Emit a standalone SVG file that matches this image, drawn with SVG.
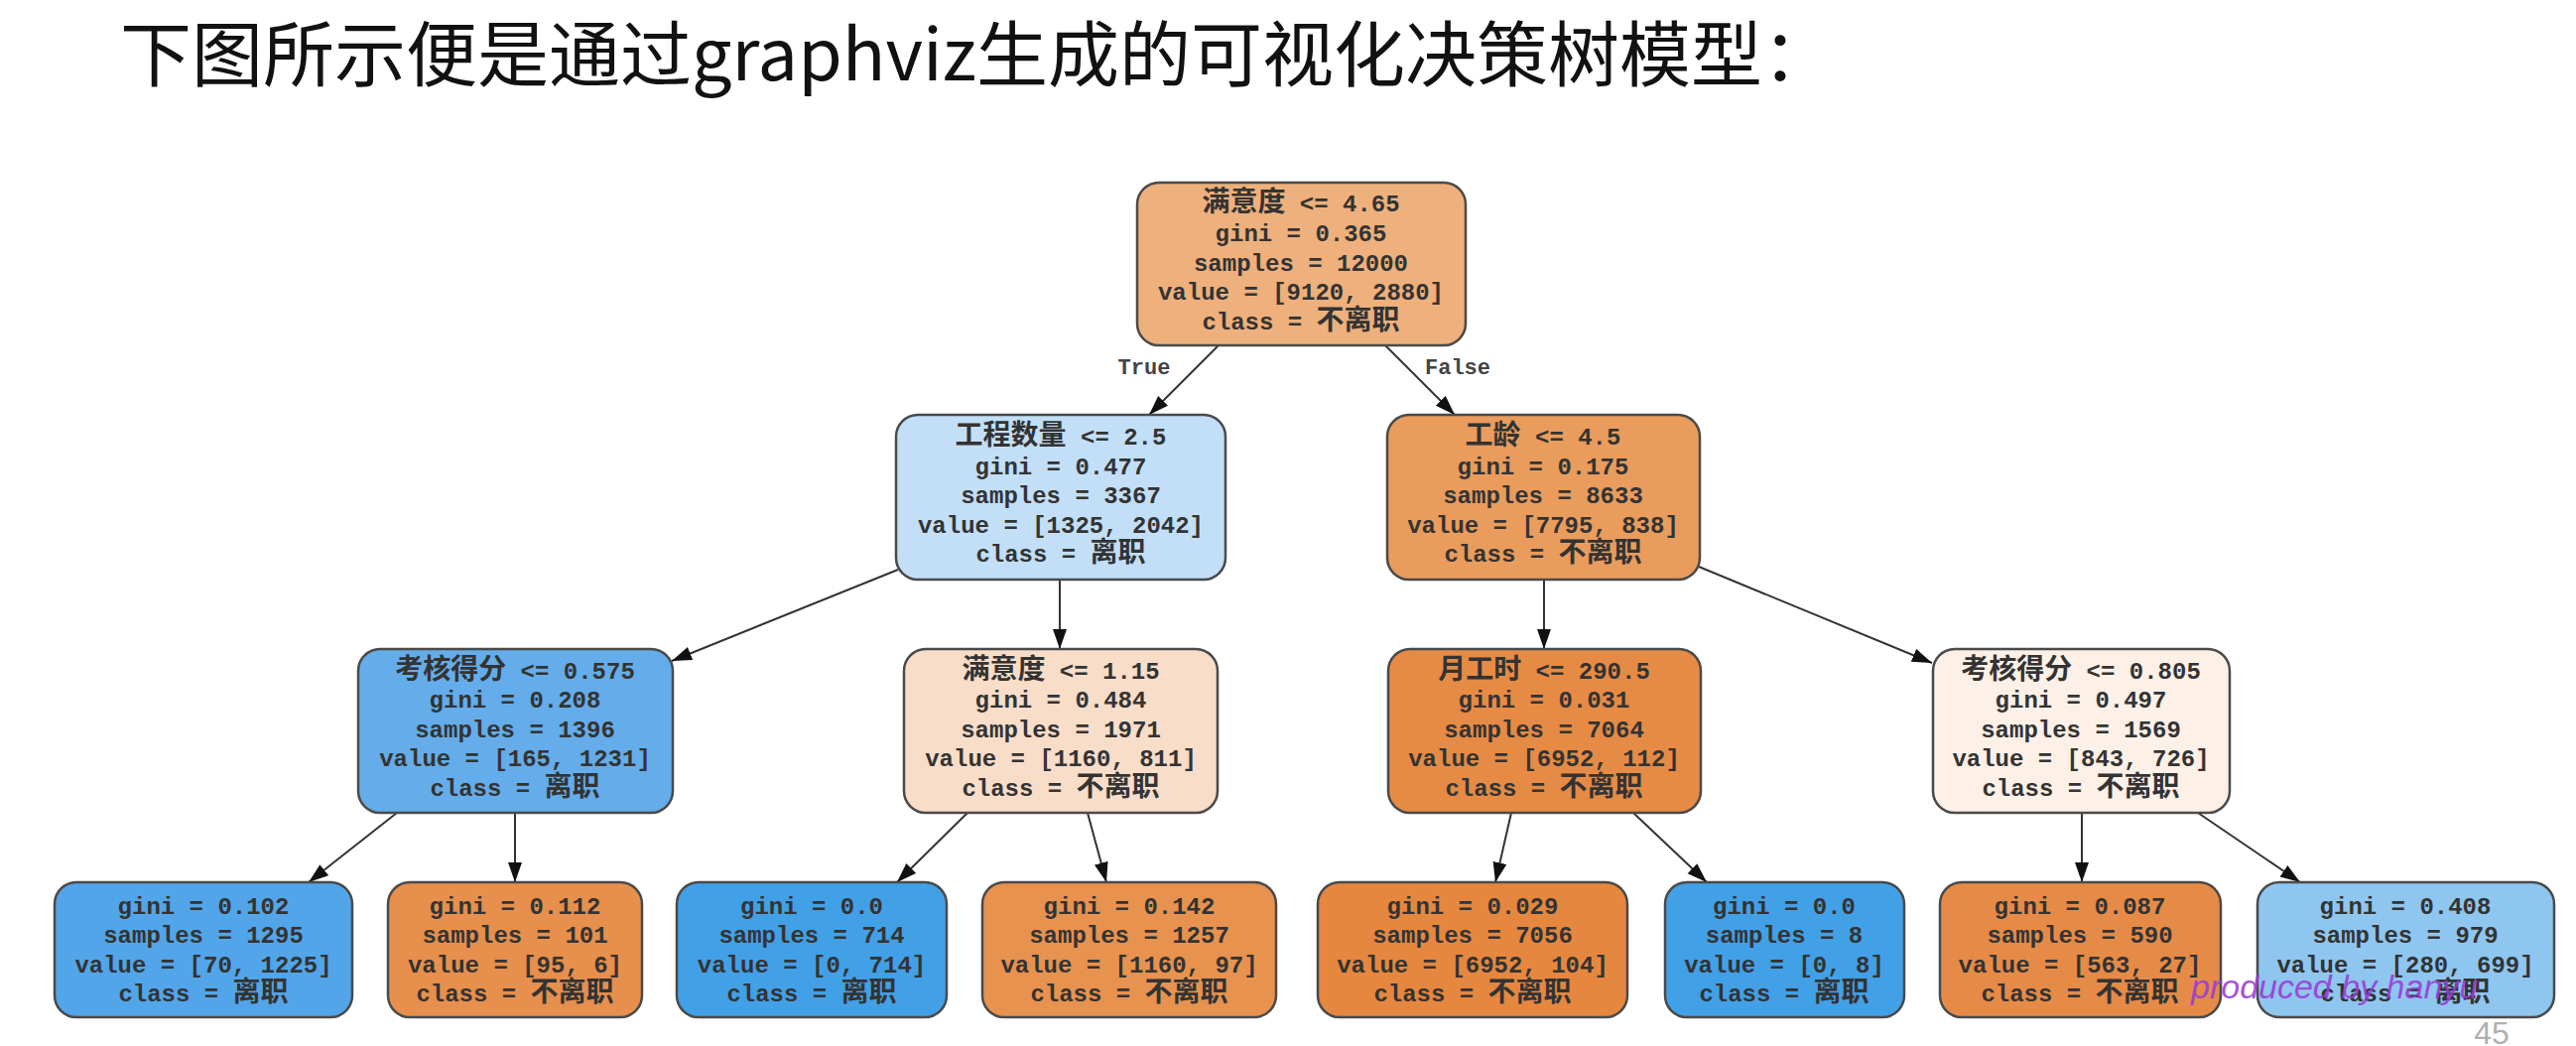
<svg xmlns="http://www.w3.org/2000/svg" width="2596" height="1054" viewBox="0 0 2596 1054">
  <style>
    .box { stroke: #4a4a4a; stroke-width: 2.5; }
    .t { font-family: "Liberation Mono", "Noto Sans CJK SC", monospace; font-size: 24px; font-weight: bold; fill: #333; text-anchor: middle; }
    .c { font-family: "Noto Sans CJK SC", sans-serif; font-size: 28px; font-weight: bold; }
    .edge { stroke: #333; stroke-width: 2; fill: none; marker-end: url(#arrow); }
    .lbl { font-family: "Liberation Mono", monospace; font-size: 22px; font-weight: bold; fill: #444; text-anchor: middle; }
    .title { font-family: "Noto Sans CJK SC", sans-serif; font-size: 72px; fill: #111; }
  </style>
  <defs>
    <marker id="arrow" markerUnits="userSpaceOnUse" markerWidth="22" markerHeight="16" refX="20" refY="7" orient="auto">
      <path d="M0,0 L20,7 L0,14 z" fill="#111"/>
    </marker>
  </defs>
  <rect width="2596" height="1054" fill="#fff"/>

  <text class="title" x="121" y="81">下图所示便是通过graphviz生成的可视化决策树模型：</text>

  <!-- tree connectors -->
  <g id="edges">
    <line class="edge" x1="1228" y1="348" x2="1158" y2="418"/>
    <line class="edge" x1="1396" y1="348" x2="1466" y2="418"/>
    <line class="edge" x1="905" y1="574" x2="677" y2="666"/>
    <line class="edge" x1="1068" y1="584" x2="1068" y2="654"/>
    <line class="edge" x1="1556" y1="584" x2="1556" y2="654"/>
    <line class="edge" x1="1712" y1="571" x2="1947" y2="668"/>
    <line class="edge" x1="400" y1="819" x2="311" y2="889"/>
    <line class="edge" x1="519" y1="819" x2="519" y2="889"/>
    <line class="edge" x1="975" y1="819" x2="904" y2="889"/>
    <line class="edge" x1="1096" y1="819" x2="1115" y2="889"/>
    <line class="edge" x1="1523" y1="819" x2="1507" y2="889"/>
    <line class="edge" x1="1646" y1="819" x2="1720" y2="889"/>
    <line class="edge" x1="2098" y1="819" x2="2098" y2="889"/>
    <line class="edge" x1="2215" y1="819" x2="2318" y2="889"/>
    <text class="lbl" x="1153" y="377">True</text>
    <text class="lbl" x="1469" y="377">False</text>
  </g>

  <!-- level 0 -->
  <g id="n0">
    <rect class="box" x="1146" y="184" width="331" height="164" rx="22" fill="#eeb07c"/>
    <text class="t" x="1311" y="213"><tspan class="c">满意度</tspan> &lt;= 4.65</text>
    <text class="t" x="1311" y="243">gini = 0.365</text>
    <text class="t" x="1311" y="273">samples = 12000</text>
    <text class="t" x="1311" y="302">value = [9120, 2880]</text>
    <text class="t" x="1311" y="332">class = <tspan class="c">不离职</tspan></text>
  </g>

  <!-- level 1 -->
  <g id="n1">
    <rect class="box" x="903" y="418" width="332" height="166" rx="22" fill="#c2dff7"/>
    <text class="t" x="1069" y="448"><tspan class="c">工程数量</tspan> &lt;= 2.5</text>
    <text class="t" x="1069" y="478">gini = 0.477</text>
    <text class="t" x="1069" y="507">samples = 3367</text>
    <text class="t" x="1069" y="537">value = [1325, 2042]</text>
    <text class="t" x="1069" y="566">class = <tspan class="c">离职</tspan></text>
  </g>
  <g id="n8">
    <rect class="box" x="1398" y="418" width="315" height="166" rx="22" fill="#e99c5c"/>
    <text class="t" x="1555" y="448"><tspan class="c">工龄</tspan> &lt;= 4.5</text>
    <text class="t" x="1555" y="478">gini = 0.175</text>
    <text class="t" x="1555" y="507">samples = 8633</text>
    <text class="t" x="1555" y="537">value = [7795, 838]</text>
    <text class="t" x="1555" y="566">class = <tspan class="c">不离职</tspan></text>
  </g>

  <!-- level 2 -->
  <g id="n2">
    <rect class="box" x="361" y="654" width="317" height="165" rx="22" fill="#64adea"/>
    <text class="t" x="519" y="684"><tspan class="c">考核得分</tspan> &lt;= 0.575</text>
    <text class="t" x="519" y="713">gini = 0.208</text>
    <text class="t" x="519" y="743">samples = 1396</text>
    <text class="t" x="519" y="772">value = [165, 1231]</text>
    <text class="t" x="519" y="802">class = <tspan class="c">离职</tspan></text>
  </g>
  <g id="n5">
    <rect class="box" x="911" y="654" width="316" height="165" rx="22" fill="#f8ddc9"/>
    <text class="t" x="1069" y="684"><tspan class="c">满意度</tspan> &lt;= 1.15</text>
    <text class="t" x="1069" y="713">gini = 0.484</text>
    <text class="t" x="1069" y="743">samples = 1971</text>
    <text class="t" x="1069" y="772">value = [1160, 811]</text>
    <text class="t" x="1069" y="802">class = <tspan class="c">不离职</tspan></text>
  </g>
  <g id="n9">
    <rect class="box" x="1399" y="654" width="315" height="165" rx="22" fill="#e68b45"/>
    <text class="t" x="1556" y="684"><tspan class="c">月工时</tspan> &lt;= 290.5</text>
    <text class="t" x="1556" y="713">gini = 0.031</text>
    <text class="t" x="1556" y="743">samples = 7064</text>
    <text class="t" x="1556" y="772">value = [6952, 112]</text>
    <text class="t" x="1556" y="802">class = <tspan class="c">不离职</tspan></text>
  </g>
  <g id="n12">
    <rect class="box" x="1948" y="654" width="299" height="165" rx="22" fill="#fcf0e7"/>
    <text class="t" x="2097" y="684"><tspan class="c">考核得分</tspan> &lt;= 0.805</text>
    <text class="t" x="2097" y="713">gini = 0.497</text>
    <text class="t" x="2097" y="743">samples = 1569</text>
    <text class="t" x="2097" y="772">value = [843, 726]</text>
    <text class="t" x="2097" y="802">class = <tspan class="c">不离职</tspan></text>
  </g>

  <!-- leaves -->
  <g id="n3">
    <rect class="box" x="55" y="889" width="300" height="136" rx="22" fill="#52a5e9"/>
    <text class="t" x="205" y="921">gini = 0.102</text>
    <text class="t" x="205" y="950">samples = 1295</text>
    <text class="t" x="205" y="980">value = [70, 1225]</text>
    <text class="t" x="205" y="1009">class = <tspan class="c">离职</tspan></text>
  </g>
  <g id="n4">
    <rect class="box" x="391" y="889" width="256" height="136" rx="22" fill="#e78f4c"/>
    <text class="t" x="519" y="921">gini = 0.112</text>
    <text class="t" x="519" y="950">samples = 101</text>
    <text class="t" x="519" y="980">value = [95, 6]</text>
    <text class="t" x="519" y="1009">class = <tspan class="c">不离职</tspan></text>
  </g>
  <g id="n6">
    <rect class="box" x="682" y="889" width="272" height="136" rx="22" fill="#42a0e7"/>
    <text class="t" x="818" y="921">gini = 0.0</text>
    <text class="t" x="818" y="950">samples = 714</text>
    <text class="t" x="818" y="980">value = [0, 714]</text>
    <text class="t" x="818" y="1009">class = <tspan class="c">离职</tspan></text>
  </g>
  <g id="n7">
    <rect class="box" x="990" y="889" width="296" height="136" rx="22" fill="#e8924f"/>
    <text class="t" x="1138" y="921">gini = 0.142</text>
    <text class="t" x="1138" y="950">samples = 1257</text>
    <text class="t" x="1138" y="980">value = [1160, 97]</text>
    <text class="t" x="1138" y="1009">class = <tspan class="c">不离职</tspan></text>
  </g>
  <g id="n10">
    <rect class="box" x="1328" y="889" width="312" height="136" rx="22" fill="#e6873f"/>
    <text class="t" x="1484" y="921">gini = 0.029</text>
    <text class="t" x="1484" y="950">samples = 7056</text>
    <text class="t" x="1484" y="980">value = [6952, 104]</text>
    <text class="t" x="1484" y="1009">class = <tspan class="c">不离职</tspan></text>
  </g>
  <g id="n11">
    <rect class="box" x="1678" y="889" width="241" height="136" rx="22" fill="#42a0e7"/>
    <text class="t" x="1798" y="921">gini = 0.0</text>
    <text class="t" x="1798" y="950">samples = 8</text>
    <text class="t" x="1798" y="980">value = [0, 8]</text>
    <text class="t" x="1798" y="1009">class = <tspan class="c">离职</tspan></text>
  </g>
  <g id="n13">
    <rect class="box" x="1955" y="889" width="283" height="136" rx="22" fill="#e68b47"/>
    <text class="t" x="2096" y="921">gini = 0.087</text>
    <text class="t" x="2096" y="950">samples = 590</text>
    <text class="t" x="2096" y="980">value = [563, 27]</text>
    <text class="t" x="2096" y="1009">class = <tspan class="c">不离职</tspan></text>
  </g>
  <g id="n14">
    <rect class="box" x="2275" y="889" width="299" height="136" rx="22" fill="#8ec6f0"/>
    <text class="t" x="2424" y="921">gini = 0.408</text>
    <text class="t" x="2424" y="950">samples = 979</text>
    <text class="t" x="2424" y="980">value = [280, 699]</text>
    <text class="t" x="2424" y="1009">class = <tspan class="c">离职</tspan></text>
  </g>

  <!-- watermark and page number -->
  <text x="2208" y="1006" font-family="Liberation Sans, sans-serif" font-style="italic" font-size="34" fill="#9a3ad6" fill-opacity="0.9">produced by hanyu</text>
  <text x="2511" y="1052" font-family="Liberation Sans, sans-serif" font-size="32" fill="#b0b0b0" text-anchor="middle">45</text>
</svg>
